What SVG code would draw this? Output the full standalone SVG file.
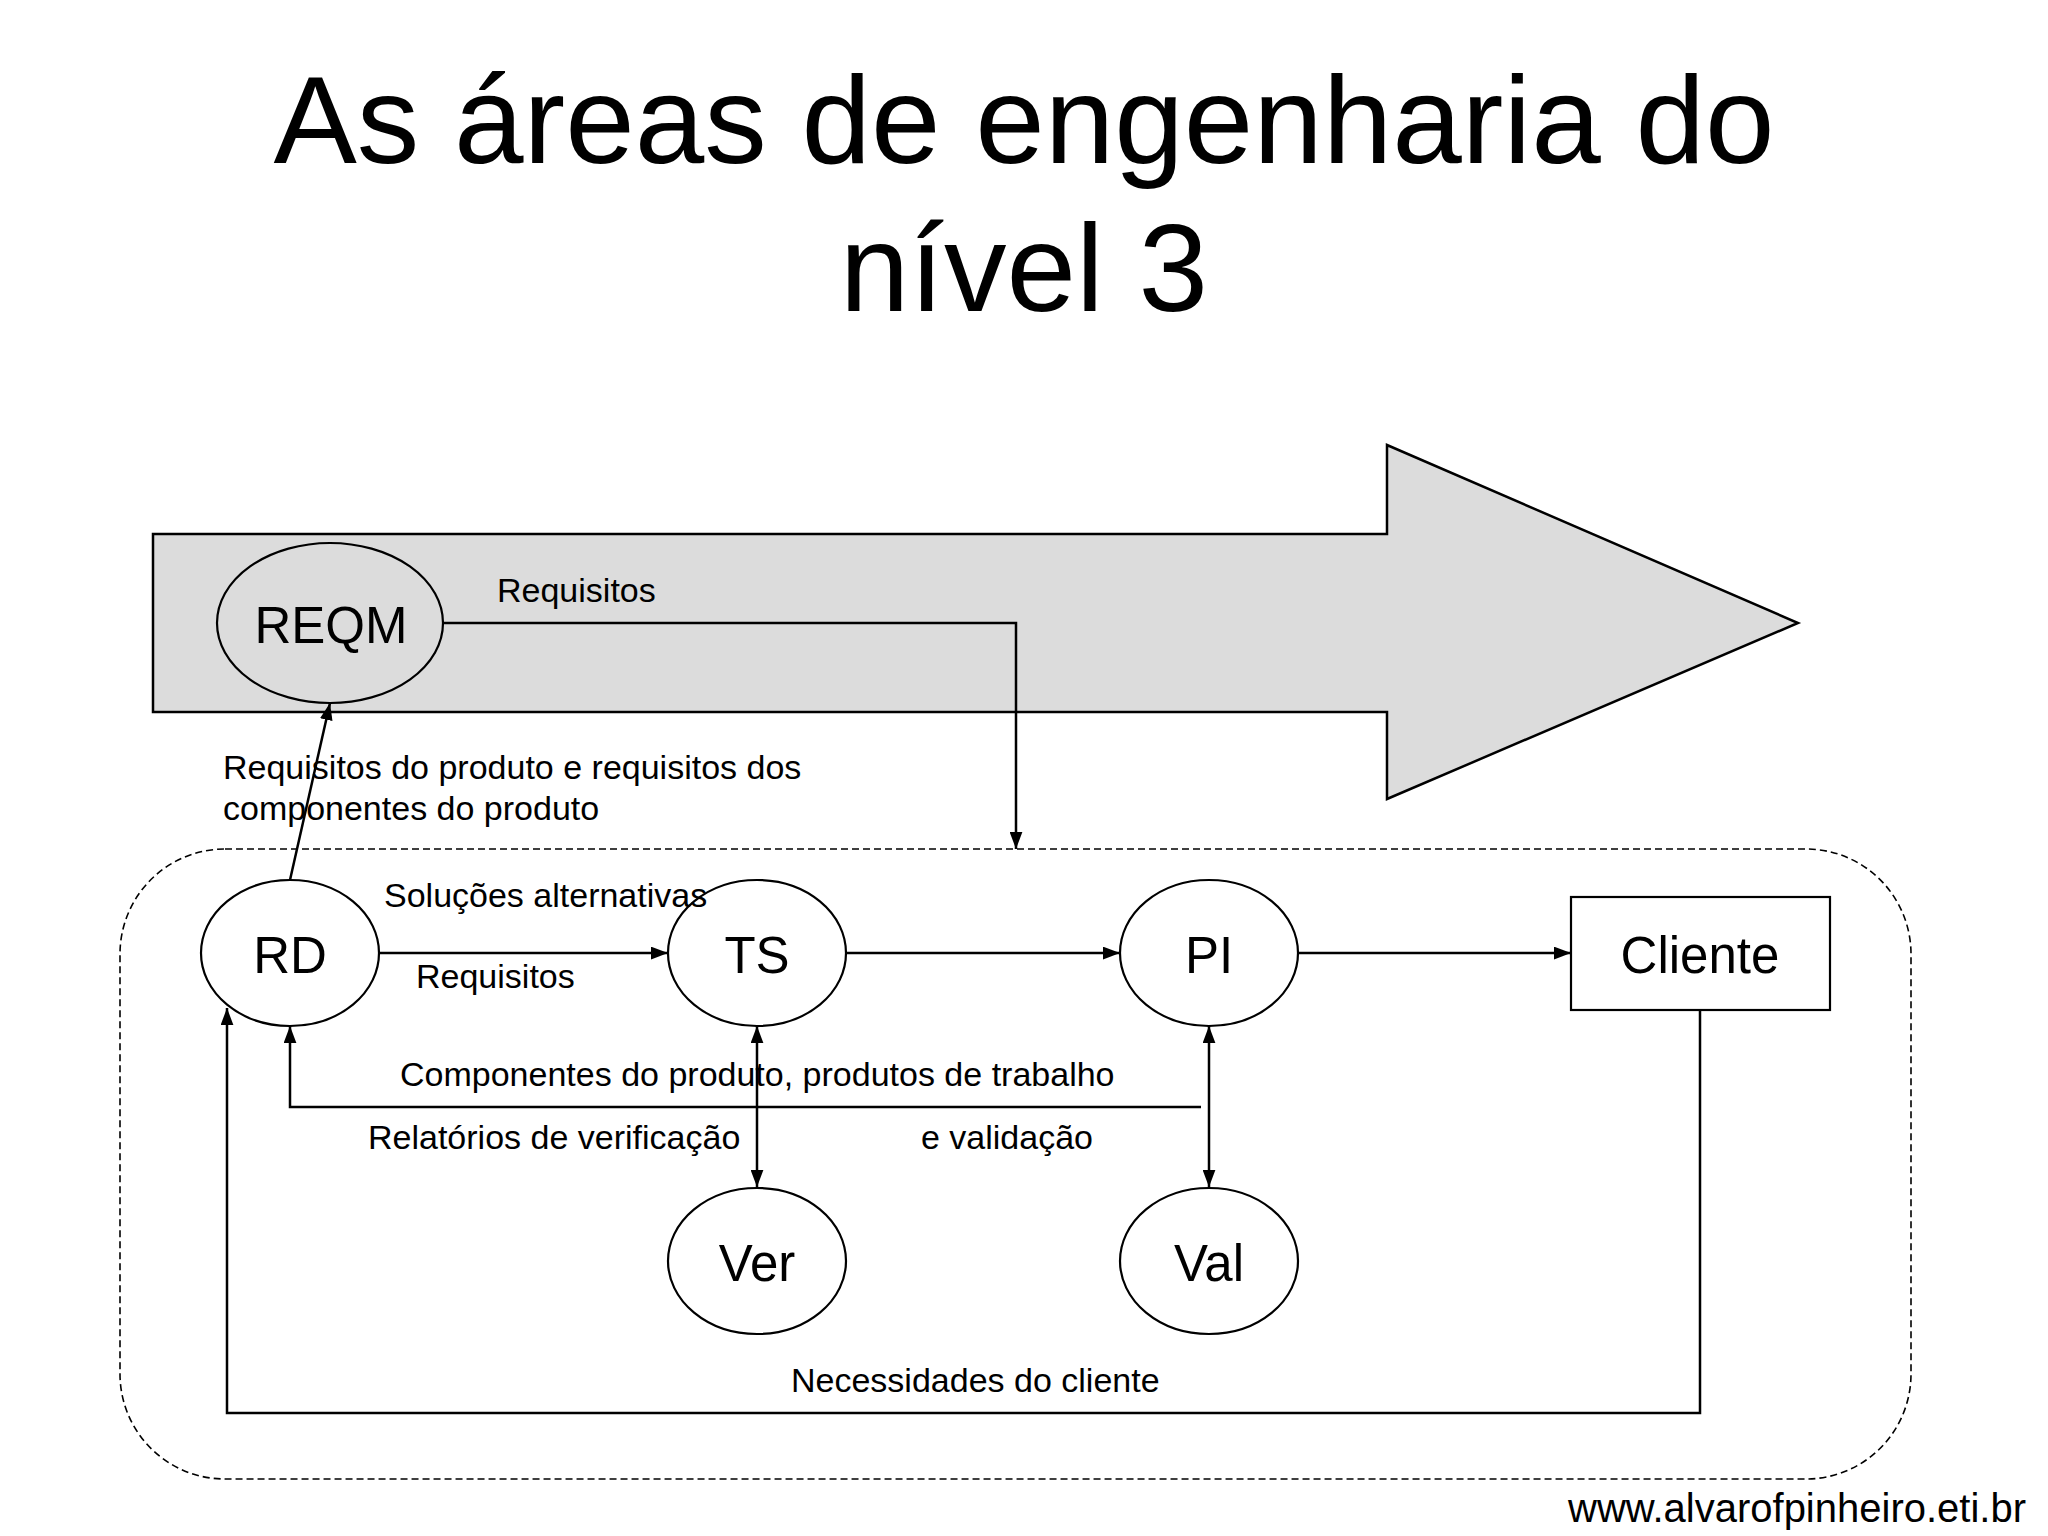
<svg xmlns="http://www.w3.org/2000/svg" width="2048" height="1536" viewBox="0 0 2048 1536">
<style>
.t{font-family:"Liberation Sans",Arial,Helvetica,sans-serif;fill:#000}
.title{font-size:125px;text-anchor:middle}
.lbl{font-size:34px}
.nt{font-size:51px;text-anchor:middle}
.c{fill:none;stroke:#000;stroke-width:2.5}
.e{fill:#fff;stroke:#000;stroke-width:2.2}
</style>
<defs>
<marker id="ah" viewBox="0 0 16 12" refX="16" refY="6" markerWidth="17" markerHeight="13" markerUnits="userSpaceOnUse" orient="auto-start-reverse">
<path d="M0,0 L16,6 L0,12 z" fill="#000"/>
</marker>
</defs>
<rect x="0" y="0" width="2048" height="1536" fill="#fff"/>
<g id="title">
<text class="t title" x="1024" y="163">As áreas de engenharia do</text>
<text class="t title" x="1024" y="311">nível 3</text>
</g>
<g id="process-arrow">
<polygon points="153,534 1387,534 1387,445 1798,623 1387,799 1387,712 153,712" fill="#dcdcdc" stroke="#000" stroke-width="2.5"/>
</g>
<g id="engineering-boundary">
<rect x="120" y="849" width="1791" height="630" rx="105" ry="105" fill="none" stroke="#000" stroke-width="1.6" stroke-dasharray="7,4"/>
</g>
<g id="connectors">
<path class="c" d="M443,623 H1016 V849" marker-end="url(#ah)"/>
<path class="c" d="M290,880 L330,703" marker-end="url(#ah)"/>
<path class="c" d="M379,953 H668" marker-end="url(#ah)"/>
<path class="c" d="M846,953 H1120" marker-end="url(#ah)"/>
<path class="c" d="M1298,953 H1571" marker-end="url(#ah)"/>
<path class="c" d="M757,1026 V1187" marker-start="url(#ah)" marker-end="url(#ah)"/>
<path class="c" d="M1209,1026 V1187" marker-start="url(#ah)" marker-end="url(#ah)"/>
<path class="c" d="M1201,1107 H290 V1026" marker-end="url(#ah)"/>
<path class="c" d="M1700,1010 V1413 H227 V1008" marker-end="url(#ah)"/>
</g>
<g id="node-reqm">
<ellipse cx="330" cy="623" rx="113" ry="80" fill="#dcdcdc" stroke="#000" stroke-width="2.2"/>
<text class="t nt" x="331" y="643">REQM</text>
</g>
<g id="node-rd">
<ellipse class="e" cx="290" cy="953" rx="89" ry="73"/>
<text class="t nt" x="290" y="973">RD</text>
</g>
<g id="node-ts">
<ellipse class="e" cx="757" cy="953" rx="89" ry="73"/>
<text class="t nt" x="757" y="973">TS</text>
</g>
<g id="node-pi">
<ellipse class="e" cx="1209" cy="953" rx="89" ry="73"/>
<text class="t nt" x="1209" y="973">PI</text>
</g>
<g id="node-cliente">
<rect x="1571" y="897" width="259" height="113" fill="#fff" stroke="#000" stroke-width="2.2"/>
<text class="t nt" x="1700" y="973">Cliente</text>
</g>
<g id="node-ver">
<ellipse class="e" cx="757" cy="1261" rx="89" ry="73"/>
<text class="t nt" x="757" y="1281">Ver</text>
</g>
<g id="node-val">
<ellipse class="e" cx="1209" cy="1261" rx="89" ry="73"/>
<text class="t nt" x="1209" y="1281">Val</text>
</g>
<g id="labels">
<text class="t lbl" x="497" y="602">Requisitos</text>
<text class="t lbl" x="223" y="779">Requisitos do produto e requisitos dos</text>
<text class="t lbl" x="223" y="820">componentes do produto</text>
<text class="t lbl" x="384" y="907">Soluções alternativas</text>
<text class="t lbl" x="416" y="988">Requisitos</text>
<text class="t lbl" x="400" y="1086">Componentes do produto, produtos de trabalho</text>
<text class="t lbl" x="368" y="1149">Relatórios de verificação</text>
<text class="t lbl" x="921" y="1149">e validação</text>
<text class="t lbl" x="791" y="1392">Necessidades do cliente</text>
</g>
<g id="footer">
<text class="t" x="2026" y="1522" font-size="40" text-anchor="end">www.alvarofpinheiro.eti.br</text>
</g>
</svg>
